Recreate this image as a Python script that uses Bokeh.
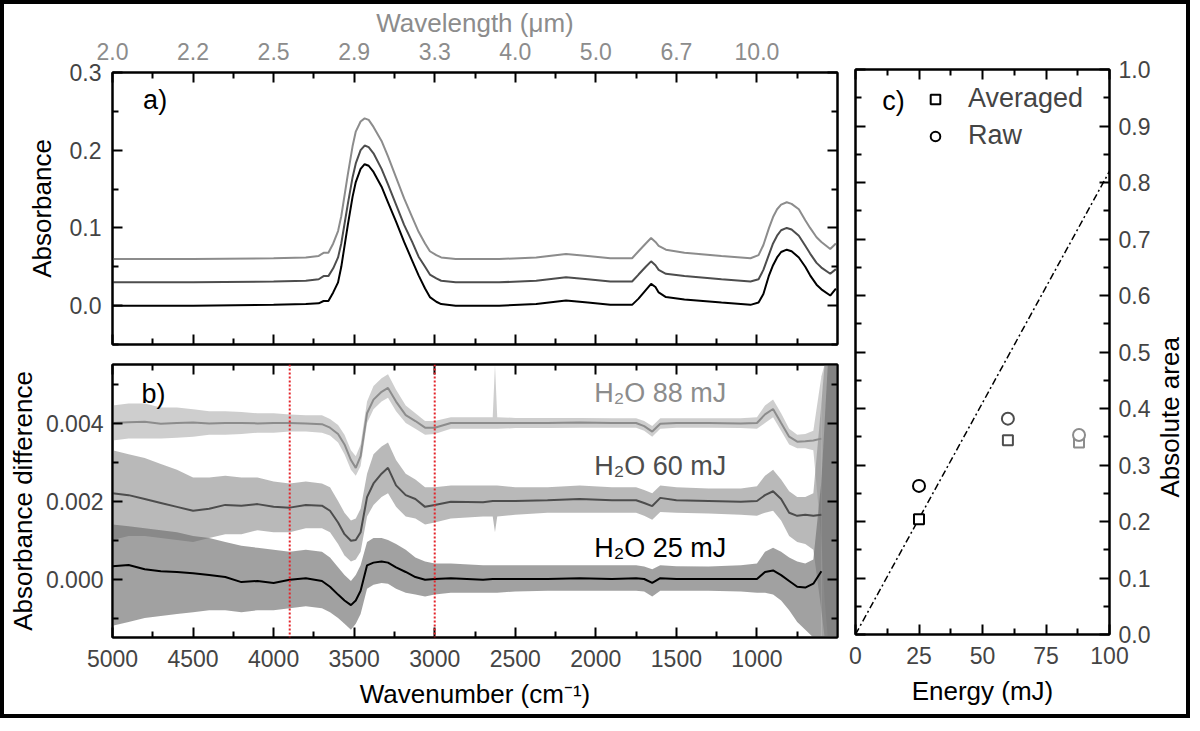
import math
from bokeh.plotting import figure
from bokeh.models import (Range1d, LinearAxis, FixedTicker, NumeralTickFormatter,
                          Span, Legend, LegendItem)
from bokeh.layouts import row, column
from bokeh.core.properties import value
from bokeh.embed import file_html
from bokeh.resources import INLINE

FONT = "Liberation Sans"

# ---------------- panel a) absorbance spectra (curves are offset) ----------------
wn_a = [5000, 4500, 4000, 3800, 3720, 3690, 3660, 3630, 3600, 3580, 3540, 3510, 3490, 3460, 3435,
        3410, 3380, 3330, 3290, 3240, 3190, 3140, 3100, 3060, 3030, 2990, 2960, 2870, 2600, 2370,
        2185, 2050, 1910, 1775, 1735, 1690, 1657, 1630, 1610, 1565, 1450, 1220, 1040, 990, 960,
        925, 900, 875, 850, 815, 785, 740, 700, 670, 630, 600, 545, 510]
abs_25 = [0.000, 0.000, 0.001, 0.002, 0.003, 0.006, 0.006, 0.017, 0.030, 0.050, 0.103, 0.140, 0.159, 0.176, 0.182,
          0.180, 0.172, 0.153, 0.133, 0.108, 0.082, 0.058, 0.039, 0.022, 0.011, 0.005, 0.002, 0.000, 0.000, 0.002,
          0.0065, 0.004, 0.001, 0.001, 0.009, 0.020, 0.028, 0.024, 0.017, 0.011, 0.008, 0.004, 0.001, 0.004, 0.015,
          0.039, 0.052, 0.062, 0.069, 0.072, 0.070, 0.062, 0.050, 0.039, 0.027, 0.021, 0.013, 0.022]
abs_60 = [0.030, 0.030, 0.031, 0.032, 0.034, 0.038, 0.038, 0.048, 0.062, 0.080, 0.130, 0.165, 0.183, 0.200, 0.206,
          0.204, 0.196, 0.176, 0.156, 0.130, 0.104, 0.082, 0.063, 0.050, 0.040, 0.035, 0.032, 0.030, 0.030, 0.032,
          0.0365, 0.034, 0.031, 0.031, 0.040, 0.050, 0.057, 0.052, 0.046, 0.041, 0.038, 0.034, 0.031, 0.034, 0.046,
          0.066, 0.080, 0.090, 0.097, 0.100, 0.098, 0.090, 0.077, 0.067, 0.055, 0.049, 0.041, 0.047]
abs_88 = [0.060, 0.060, 0.061, 0.062, 0.064, 0.068, 0.068, 0.080, 0.096, 0.115, 0.168, 0.205, 0.224, 0.237, 0.241,
          0.239, 0.230, 0.212, 0.192, 0.165, 0.138, 0.114, 0.095, 0.080, 0.070, 0.065, 0.062, 0.060, 0.060, 0.062,
          0.0665, 0.064, 0.061, 0.061, 0.070, 0.080, 0.087, 0.082, 0.077, 0.072, 0.068, 0.064, 0.061, 0.065, 0.078,
          0.100, 0.114, 0.124, 0.130, 0.133, 0.131, 0.124, 0.110, 0.100, 0.088, 0.082, 0.073, 0.080]

# ---------------- panel b) absorbance difference, in units of 1e-3 ----------------
wn_b = [5000, 4900, 4800, 4700, 4600, 4500, 4400, 4300, 4200, 4100, 4000,
        3900, 3800, 3700,
        3650, 3600, 3560, 3520, 3490, 3460, 3420, 3380, 3330, 3290, 3240, 3180, 3120, 3060, 3000,
        2900, 2700, 2640, 2626, 2612,
        2500, 2300, 2100, 1900, 1750, 1700, 1650, 1600, 1500, 1300, 1100, 1000,
        950, 900, 850, 800, 750, 700, 650, 600]

diff_88 = [4.00, 4.02, 4.03, 3.98, 4.00, 4.01, 3.99, 4.00, 4.00, 3.99, 4.00,
           4.00, 3.99, 3.97,
           3.88, 3.72, 3.45, 3.05, 2.85, 3.15, 4.25, 4.60, 4.80, 4.90, 4.55, 4.20, 4.05, 3.88, 3.88,
           4.00, 4.00, 4.00, 4.00, 4.00,
           4.00, 4.00, 4.01, 4.00, 4.00, 3.92, 3.78, 3.98, 4.00, 4.00, 3.99, 4.00,
           4.22, 4.36, 4.00, 3.65, 3.52, 3.53, 3.55, 3.60]
lo_88 = [3.55, 3.60, 3.60, 3.60, 3.62, 3.65, 3.70, 3.70, 3.72, 3.75, 3.75,
         3.78, 3.78, 3.75,
         3.68, 3.50, 3.20, 2.80, 2.65, 2.90, 4.00, 4.35, 4.55, 4.65, 4.30, 4.00, 3.85, 3.70, 3.72,
         3.85, 3.85, 3.85, 3.85, 3.85,
         3.87, 3.87, 3.88, 3.88, 3.88, 3.80, 3.65, 3.85, 3.88, 3.88, 3.87, 3.85,
         4.00, 4.15, 3.80, 3.45, 3.35, 3.35, 3.30, 1.00]
hi_88 = [4.45, 4.50, 4.50, 4.40, 4.40, 4.35, 4.30, 4.30, 4.28, 4.25, 4.25,
         4.22, 4.20, 4.20,
         4.10, 3.95, 3.70, 3.30, 3.15, 3.45, 4.55, 4.95, 5.15, 5.25, 4.85, 4.45, 4.25, 4.05, 4.05,
         4.15, 4.15, 4.15, 5.50, 4.15,
         4.13, 4.13, 4.13, 4.12, 4.12, 4.05, 3.92, 4.12, 4.12, 4.12, 4.12, 4.15,
         4.45, 4.60, 4.25, 3.85, 3.70, 3.72, 3.80, 5.20]

diff_60 = [2.20, 2.15, 2.05, 1.95, 1.85, 1.75, 1.80, 1.90, 1.88, 1.92, 1.85,
           1.83, 1.90, 1.88,
           1.75, 1.45, 1.15, 0.98, 1.00, 1.20, 2.10, 2.45, 2.70, 2.85, 2.40, 2.15, 2.05, 1.85, 1.90,
           1.98, 1.97, 2.00, 2.00, 2.00,
           2.00, 2.02, 2.05, 2.02, 2.02, 1.95, 1.87, 2.08, 2.02, 2.00, 1.98, 2.00,
           2.15, 2.25, 2.05, 1.70, 1.62, 1.65, 1.62, 1.65]
lo_60 = [1.00, 1.10, 1.10, 1.05, 1.00, 0.95, 1.05, 1.15, 1.15, 1.25, 1.20,
         1.20, 1.30, 1.30,
         1.20, 0.90, 0.60, 0.45, 0.50, 0.70, 1.60, 1.90, 2.10, 2.20, 1.85, 1.60, 1.55, 1.40, 1.45,
         1.55, 1.60, 1.60, 1.20, 1.60,
         1.65, 1.70, 1.70, 1.70, 1.70, 1.62, 1.52, 1.72, 1.70, 1.68, 1.65, 1.62,
         1.70, 1.75, 1.50, 1.10, 0.95, 0.90, 0.75, -0.80]
hi_60 = [3.30, 3.20, 3.10, 2.95, 2.80, 2.60, 2.60, 2.65, 2.60, 2.60, 2.50,
         2.45, 2.50, 2.45,
         2.35, 2.00, 1.70, 1.50, 1.55, 1.80, 2.70, 3.20, 3.40, 3.50, 3.05, 2.70, 2.55, 2.35, 2.35,
         2.40, 2.40, 2.40, 2.40, 2.40,
         2.35, 2.35, 2.40, 2.35, 2.35, 2.28, 2.20, 2.40, 2.35, 2.32, 2.32, 2.38,
         2.65, 2.80, 2.55, 2.25, 2.10, 2.10, 2.20, 4.50]

diff_25 = [0.33, 0.36, 0.25, 0.20, 0.18, 0.15, 0.10, 0.05, -0.08, -0.05, -0.10,
           -0.02, 0.02, -0.05,
           -0.20, -0.40, -0.55, -0.67, -0.55, -0.30, 0.35, 0.42, 0.45, 0.42, 0.30, 0.18, 0.05, -0.02, 0.00,
           0.02, -0.02, 0.00, 0.00, 0.00,
           0.00, 0.00, 0.02, 0.00, 0.02, 0.00, -0.10, 0.02, 0.00, 0.00, 0.00, 0.00,
           0.18, 0.22, 0.10, -0.05, -0.20, -0.22, -0.12, 0.20]
lo_25 = [-1.20, -1.10, -1.00, -0.95, -0.90, -0.85, -0.80, -0.80, -0.85, -0.80, -0.80,
         -0.75, -0.70, -0.75,
         -0.85, -1.00, -1.15, -1.30, -1.15, -0.90, -0.25, -0.15, -0.10, -0.12, -0.25, -0.35, -0.40, -0.45, -0.40,
         -0.35, -0.35, -0.35, -0.35, -0.35,
         -0.32, -0.30, -0.30, -0.30, -0.30, -0.32, -0.45, -0.30, -0.30, -0.30, -0.32, -0.35,
         -0.35, -0.40, -0.55, -0.80, -1.10, -1.30, -1.50, -1.50]
hi_25 = [1.40, 1.35, 1.30, 1.25, 1.20, 1.10, 1.05, 0.95, 0.85, 0.80, 0.75,
         0.70, 0.75, 0.70,
         0.55, 0.30, 0.10, -0.05, 0.10, 0.35, 0.95, 1.05, 1.05, 1.00, 0.90, 0.75, 0.55, 0.45, 0.40,
         0.40, 0.35, 0.35, 0.35, 0.35,
         0.35, 0.35, 0.35, 0.35, 0.35, 0.32, 0.25, 0.35, 0.33, 0.32, 0.35, 0.40,
         0.70, 0.80, 0.70, 0.55, 0.45, 0.40, 0.50, 2.50]

# noisy end of the spectra below 600 cm-1
wn_edge = [600, 580, 560, 540, 520, 500]
edge_lo_88 = [1.00, -0.50, -1.50, -1.50, -1.50, -1.50]
edge_hi_88 = [5.20, 5.50, 5.50, 5.50, 5.50, 5.50]
edge_lo_60 = [-0.80, -1.50, -1.50, -1.50, -1.50, -1.50]
edge_hi_60 = [4.50, 5.50, 5.50, 5.50, 5.50, 5.50]
edge_lo_25 = [-1.50, -1.50, -1.50, -1.50, -1.50, -1.50]
edge_hi_25 = [2.50, 4.00, 5.50, 5.50, 5.50, 5.50]

band_edges = [3900, 3000]

# ---------------- panel c) integrated area vs energy ----------------
energy = [25, 60, 88]
area_avg = [0.204, 0.344, 0.340]
area_raw = [0.263, 0.382, 0.353]
fit_energy = [0, 100]
fit_area = [0, 0.82]

# ---------------- ticks ----------------
wn_ticks = [5000, 4500, 4000, 3500, 3000, 2500, 2000, 1500, 1000]
wn_minor = [4750, 4250, 3750, 3250, 2750, 2250, 1750, 1250, 750]
wl_labels = ["2.0", "2.2", "2.5", "2.9", "3.3", "4.0", "5.0", "6.7", "10.0"]
a_ticks = [0.0, 0.1, 0.2, 0.3]
a_minor = [-0.05, 0.05, 0.15, 0.25]
b_ticks = [0, 2, 4]
b_minor = [-1, 1, 3, 5]
b_labels = ["0.000", "0.002", "0.004"]
c_xticks = [0, 25, 50, 75, 100]
c_xminor = [12.5, 37.5, 62.5, 87.5]
c_yticks = [0.0, 0.1, 0.2, 0.3, 0.4, 0.5, 0.6, 0.7, 0.8, 0.9, 1.0]
c_yminor = [0.05, 0.15, 0.25, 0.35, 0.45, 0.55, 0.65, 0.75, 0.85, 0.95]

BLACK, DARK, LIGHT = "black", "#4d4d4d", "#8c8c8c"
LABEL_SIZE = "23px"
TITLE_SIZE = "26px"


def frame_style(p):
    p.grid.visible = False
    p.outline_line_color = "black"
    p.outline_line_width = 2
    p.background_fill_color = "white"
    p.border_fill_color = "white"


def dress(ax, ticks, minor, labelled=True, standoff=11):
    ax.ticker = FixedTicker(ticks=ticks, minor_ticks=minor)
    ax.axis_line_width = 2
    ax.major_tick_in = 10
    ax.major_tick_out = 0
    ax.minor_tick_in = 6
    ax.minor_tick_out = 0
    ax.major_tick_line_width = 2
    ax.minor_tick_line_width = 2
    ax.major_label_text_font = FONT
    ax.axis_label_text_font = FONT
    ax.axis_label_text_font_size = TITLE_SIZE
    ax.axis_label_text_font_style = "normal"
    ax.axis_label_text_color = "black"
    if labelled:
        ax.major_label_text_font_size = LABEL_SIZE
        ax.major_label_standoff = standoff
    else:
        # mirrored tick marks only
        ax.major_label_text_font_size = "0px"
        ax.major_label_text_color = None
        ax.major_label_standoff = 0
        ax.axis_label = None


# ---- panel a
pa = figure(frame_width=725, frame_height=272, x_range=Range1d(5000, 500), y_range=Range1d(-0.05, 0.3),
            x_axis_location="above", output_backend="svg", toolbar_location=None,
            min_border_left=104, min_border_right=9, min_border_top=65, min_border_bottom=10)
frame_style(pa)
top = pa.above[0]
dress(top, wn_ticks, wn_minor, standoff=13)
top.major_label_overrides = dict(zip(wn_ticks, wl_labels))
top.major_label_text_color = LIGHT
top.axis_label = "Wavelength (μm)"
top.axis_label_text_color = LIGHT
top.axis_label_standoff = 2
left = pa.left[0]
dress(left, a_ticks, a_minor, standoff=11)
left.formatter = NumeralTickFormatter(format="0.0")
left.axis_label = "Absorbance"
left.axis_label_standoff = 10
for place in ("below", "right"):
    ax = LinearAxis()
    dress(ax, wn_ticks if place == "below" else a_ticks, wn_minor if place == "below" else a_minor, labelled=False)
    pa.add_layout(ax, place)

pa.line(wn_a, abs_88, line_color=LIGHT, line_width=2)
pa.line(wn_a, abs_60, line_color=DARK, line_width=2)
pa.line(wn_a, abs_25, line_color=BLACK, line_width=2)
pa.text(x=[4810], y=[0.265], text=["a)"], text_font=value(FONT), text_font_size="27px",
        text_baseline="middle", text_align="left", text_color="black")

# ---- panel b
pb = figure(frame_width=725, frame_height=273, x_range=pa.x_range, y_range=Range1d(-1.5, 5.5),
            output_backend="svg", toolbar_location=None,
            min_border_left=104, min_border_right=9, min_border_top=10, min_border_bottom=77)
frame_style(pb)
bottom = pb.below[0]
dress(bottom, wn_ticks, wn_minor, standoff=12)
bottom.axis_label = "Wavenumber (cm⁻¹)"
bottom.axis_label_standoff = 9
left = pb.left[0]
dress(left, b_ticks, b_minor, standoff=9)
left.major_label_overrides = dict(zip(b_ticks, b_labels))
left.axis_label = "Absorbance difference"
left.axis_label_standoff = 5
for place in ("above", "right"):
    ax = LinearAxis()
    dress(ax, wn_ticks if place == "above" else b_ticks, wn_minor if place == "above" else b_minor, labelled=False)
    pb.add_layout(ax, place)

pb.varea(x=wn_b, y1=lo_88, y2=hi_88, fill_color="#9e9e9e", fill_alpha=0.5)
pb.varea(x=wn_edge, y1=edge_lo_88, y2=edge_hi_88, fill_color="#9e9e9e", fill_alpha=0.5)
pb.varea(x=wn_b, y1=lo_60, y2=hi_60, fill_color="#8a8a8a", fill_alpha=0.6)
pb.varea(x=wn_edge, y1=edge_lo_60, y2=edge_hi_60, fill_color="#8a8a8a", fill_alpha=0.6)
pb.varea(x=wn_b, y1=lo_25, y2=hi_25, fill_color="#6e6e6e", fill_alpha=0.65)
pb.varea(x=wn_edge, y1=edge_lo_25, y2=edge_hi_25, fill_color="#6e6e6e", fill_alpha=0.65)
pb.line(wn_b, diff_88, line_color=LIGHT, line_width=2)
pb.line(wn_b, diff_60, line_color=DARK, line_width=2)
pb.line(wn_b, diff_25, line_color=BLACK, line_width=2)
for loc in band_edges:
    pb.add_layout(Span(location=loc, dimension="height", line_color="#e3242b",
                       line_dash="2 2", line_width=2))
pb.text(x=[2010, 2010, 2010], y=[4.78, 2.90, 0.80], text=["H₂O 88 mJ", "H₂O 60 mJ", "H₂O 25 mJ"],
        text_font=value(FONT), text_font_size="27px", text_baseline="middle", text_align="left",
        text_color=[LIGHT, DARK, BLACK])
pb.text(x=[4820], y=[4.75], text=["b)"], text_font=value(FONT), text_font_size="27px",
        text_baseline="middle", text_align="left", text_color="black")

# ---- panel c
pc = figure(frame_width=254, frame_height=565, x_range=Range1d(0, 100), y_range=Range1d(0, 1.0),
            y_axis_location="right", output_backend="svg", toolbar_location=None,
            min_border_left=9, min_border_right=42, min_border_top=65, min_border_bottom=77)
frame_style(pc)
bottom = pc.below[0]
dress(bottom, c_xticks, c_xminor, standoff=12)
bottom.axis_label = "Energy (mJ)"
bottom.axis_label_standoff = 9
right = pc.right[0]
dress(right, c_yticks, c_yminor, standoff=9)
right.formatter = NumeralTickFormatter(format="0.0")
for place in ("above", "left"):
    ax = LinearAxis()
    dress(ax, c_xticks if place == "above" else c_yticks, c_xminor if place == "above" else c_yminor, labelled=False)
    pc.add_layout(ax, place)

pc.line(fit_energy, fit_area, line_color="black", line_width=1.5, line_dash="7 3 2 3")
point_colors = [BLACK, DARK, LIGHT]
r_avg = pc.scatter(energy, area_avg, marker="square", size=10, line_color=point_colors,
                   fill_color="white", line_width=2)
r_raw = pc.scatter(energy, area_raw, marker="circle", size=12, line_color=point_colors,
                   fill_color="white", line_width=2)
pc.text(x=[10.5], y=[0.945], text=["c)"], text_font=value(FONT), text_font_size="27px",
        text_baseline="middle", text_align="left", text_color="black")

legend = Legend(items=[LegendItem(label="Averaged", renderers=[r_avg], index=0),
                       LegendItem(label="Raw", renderers=[r_raw], index=0)],
                location=(68, 483), padding=0, margin=0, spacing=6,
                glyph_width=24, glyph_height=24, label_standoff=21,
                label_text_font=FONT, label_text_font_size="27px",
                background_fill_alpha=0, border_line_alpha=0)
pc.add_layout(legend)

# narrow strip holding the right-hand axis title, reading upwards
pt = figure(frame_width=33, frame_height=707, x_range=Range1d(0, 1), y_range=Range1d(0, 1),
            x_axis_location=None, y_axis_location=None, output_backend="svg", toolbar_location=None,
            min_border_left=0, min_border_right=0, min_border_top=0, min_border_bottom=0)
pt.grid.visible = False
pt.outline_line_color = None
pt.text(x=[0.5], y=[0.508], text=["Absolute area"], angle=math.pi / 2,
        text_font=value(FONT), text_font_size=TITLE_SIZE, text_align="center",
        text_baseline="middle", text_color="black")

layout = row(column(pa, pb), pc, pt, styles={"border": "4px solid black", "box-sizing": "content-box"})

open("out.html", "w").write(file_html(layout, INLINE))
